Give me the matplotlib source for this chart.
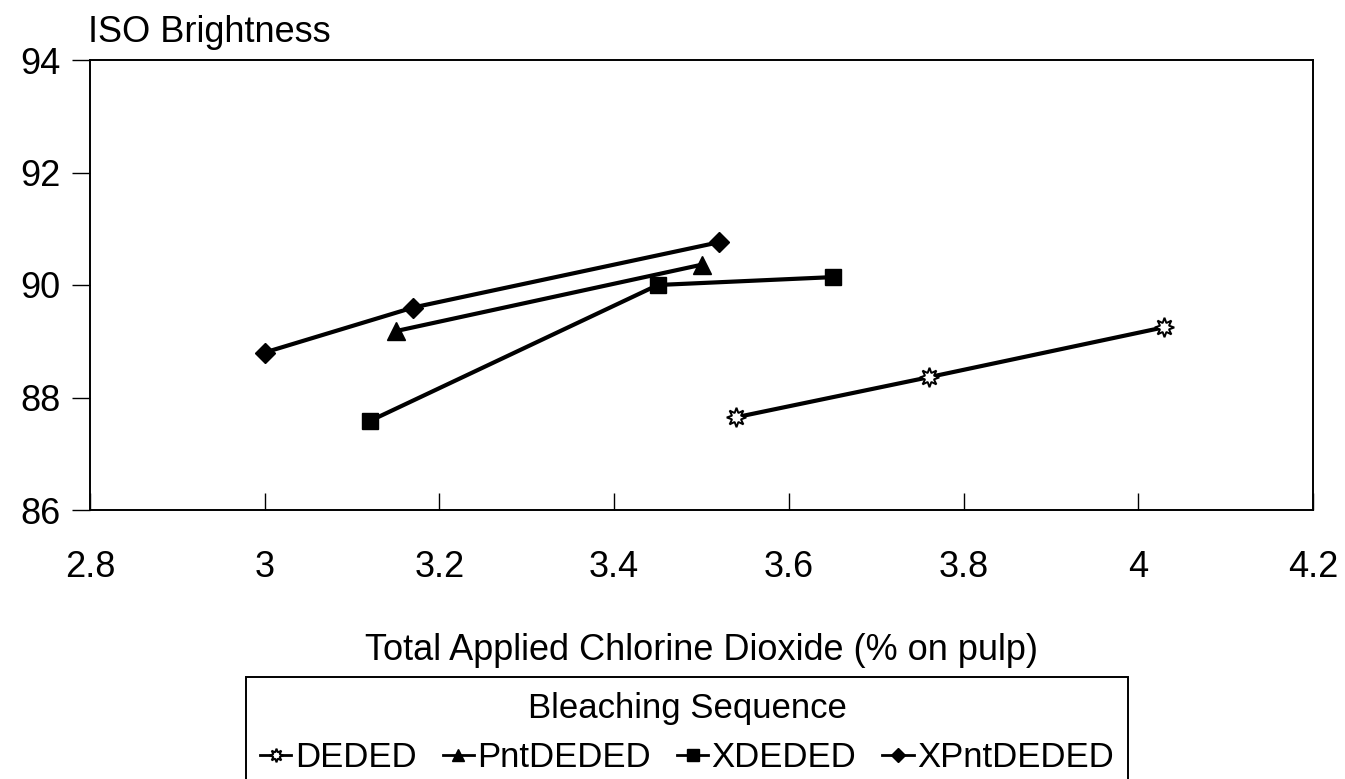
import matplotlib
matplotlib.use('Agg')
import matplotlib.pyplot as plt
from matplotlib.font_manager import FontProperties

plt.rcParams['font.family'] = ['Liberation Sans', 'DejaVu Sans']

# Total applied ClO2 (% on pulp) vs ISO brightness, per bleaching sequence
deded_x = [3.54, 3.76, 4.03]
deded_y = [87.65, 88.36, 89.25]
pnt_x = [3.15, 3.50]
pnt_y = [89.18, 90.36]
x_x = [3.12, 3.45, 3.65]
x_y = [87.58, 90.0, 90.14]
xpnt_x = [3.0, 3.17, 3.52]
xpnt_y = [88.8, 89.6, 90.76]

xticks = [2.8, 3.0, 3.2, 3.4, 3.6, 3.8, 4.0, 4.2]
xtick_labels = ['2.8', '3', '3.2', '3.4', '3.6', '3.8', '4', '4.2']
yticks = [86, 88, 90, 92, 94]

fig = plt.figure(figsize=(13.45, 7.79), dpi=100)
ax = fig.add_axes([90 / 1345, 1 - 510 / 779, (1313 - 90) / 1345, (510 - 60) / 779])

lw = 3.0
ax.plot(deded_x, deded_y, color='black', lw=lw, marker=(8, 1, 0), ms=14,
        mfc='white', mec='black', mew=1.4, label='DEDED')
ax.plot(pnt_x, pnt_y, color='black', lw=lw, marker='^', ms=13,
        mfc='black', mec='black', label='PntDEDED')
ax.plot(x_x, x_y, color='black', lw=lw, marker='s', ms=12,
        mfc='black', mec='black', label='XDEDED')
ax.plot(xpnt_x, xpnt_y, color='black', lw=lw, marker='D', ms=10,
        mfc='black', mec='black', label='XPntDEDED')

ax.set_xlim(2.8, 4.2)
ax.set_ylim(86, 94)
ax.set_xticks(xticks)
ax.set_xticklabels(xtick_labels)
ax.set_yticks(yticks)
ax.tick_params(axis='x', direction='in', length=12, width=1, labelsize=26, pad=29)
ax.tick_params(axis='y', direction='out', length=13, width=1, labelsize=26, pad=8)
for s in ax.spines.values():
    s.set_linewidth(1.4)

ax.set_xlabel('Total Applied Chlorine Dioxide (% on pulp)', fontsize=26, labelpad=34)
fig.text(88 / 1345, 1 - 42 / 779, 'ISO Brightness', fontsize=26, ha='left', va='baseline')

narrow = FontProperties(family=['Liberation Sans Narrow', 'Liberation Sans'], size=25)
leg = fig.legend(loc='upper center', bbox_to_anchor=(687 / 1345, 1 - 677 / 779),
                 ncol=4, title='Bleaching Sequence', prop=narrow,
                 title_fontproperties=narrow, borderaxespad=0,
                 frameon=True, fancybox=False, edgecolor='black', framealpha=1,
                 handlelength=0.9, handletextpad=0.1, columnspacing=0.75,
                 borderpad=0.42, labelspacing=0.2, markerscale=0.7)
leg.get_frame().set_linewidth(1.4)
leg._legend_box.sep = 12
for h in leg.legend_handles:
    h.set_linewidth(2.0)

fig.savefig('out.png', dpi=100)
